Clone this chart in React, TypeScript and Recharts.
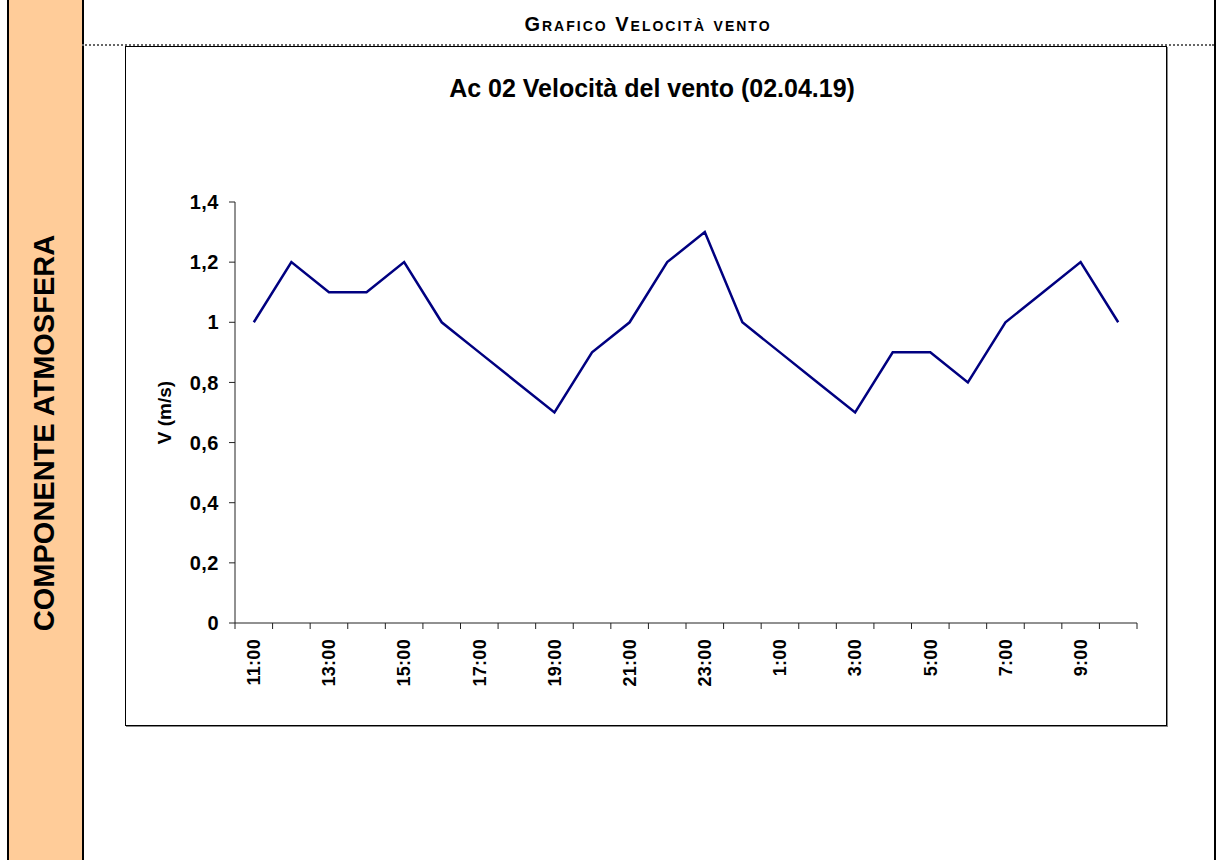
import React from "react";
import { LineChart, Line, XAxis, YAxis } from "recharts";

// hourly readings, 02.04.19 11:00 -> 03.04.19 10:00
const hours = [
  "11:00", "12:00", "13:00", "14:00", "15:00", "16:00", "17:00", "18:00",
  "19:00", "20:00", "21:00", "22:00", "23:00", "0:00", "1:00", "2:00",
  "3:00", "4:00", "5:00", "6:00", "7:00", "8:00", "9:00", "10:00",
];
const windSpeed = [
  1.0, 1.2, 1.1, 1.1, 1.2, 1.0, 0.9, 0.8,
  0.7, 0.9, 1.0, 1.2, 1.3, 1.0, 0.9, 0.8,
  0.7, 0.9, 0.9, 0.8, 1.0, 1.1, 1.2, 1.0,
];
const yTicks = [0, 0.2, 0.4, 0.6, 0.8, 1, 1.2, 1.4];

const chartTitle = "Ac 02 Velocità del vento (02.04.19)";
const sectionTitle = "Grafico Velocità vento";
const sideLabel = "COMPONENTE ATMOSFERA";

const data = hours.map((h, i) => ({ time: h, v: windSpeed[i] }));

const FONT = "Arial, 'Liberation Sans', sans-serif";
const CHART_W = 1040;
const CHART_H = 678;
const MARGIN = { top: 155, right: 29, left: 0, bottom: 0 };
const Y_W = 109;
const PLOT_W = CHART_W - MARGIN.left - MARGIN.right - Y_W;
const BAND = PLOT_W / hours.length;

function HourTick(props: any) {
  const { x, y, payload } = props;
  const idx = payload.index;
  const axisY = y - 9;
  const half = BAND / 2;
  const ty = y + 7;
  return (
    <g>
      <line x1={x - half} x2={x - half} y1={axisY} y2={axisY + 6} stroke="#222" strokeWidth={1} />
      {idx === hours.length - 1 && (
        <line x1={x + half} x2={x + half} y1={axisY} y2={axisY + 6} stroke="#222" strokeWidth={1} />
      )}
      {idx % 2 === 0 && (
        <text
          x={x}
          y={ty}
          transform={`rotate(-90 ${x} ${ty})`}
          textAnchor="end"
          dy="0.35em"
          fontFamily={FONT}
          fontWeight="bold"
          fontSize={18}
          letterSpacing={0.3}
          fill="#000"
        >
          {payload.value}
        </text>
      )}
    </g>
  );
}

export default function App() {
  return (
    <div style={{ position: "absolute", left: 0, top: 0, width: 1222, height: 860, background: "#fff", fontFamily: FONT }}>
      {/* left side column */}
      <div
        style={{
          position: "absolute", left: 7, top: 0, width: 73, height: 860,
          background: "#FFCC99", borderLeft: "2px solid #000", borderRight: "2px solid #000",
        }}
      />
      <div
        style={{
          position: "absolute", left: 44, top: 433, transform: "translate(-50%, -50%) rotate(-90deg)",
          whiteSpace: "nowrap", fontWeight: "bold", fontSize: 29, color: "#000",
        }}
      >
        {sideLabel}
      </div>
      {/* right border */}
      <div style={{ position: "absolute", left: 1214, top: 0, width: 2, height: 860, background: "#000" }} />

      {/* section header */}
      <div
        style={{
          position: "absolute", left: 82, width: 1132, top: 13, textAlign: "center",
          fontWeight: "bold", fontSize: 20, letterSpacing: 2, fontVariant: "small-caps", color: "#000",
        }}
      >
        {sectionTitle}
      </div>
      <div style={{ position: "absolute", left: 82, top: 44, width: 1132, borderTop: "2px dotted #666" }} />

      {/* chart box */}
      <div
        style={{
          position: "absolute", left: 125, top: 46, width: CHART_W, height: CHART_H,
          border: "1px solid #000", boxShadow: "1px 1px 0 #888",
        }}
      >
        <div
          style={{
            position: "absolute", left: 0, right: 0, top: 27, textAlign: "center",
            fontWeight: "bold", fontSize: 25, color: "#000", transform: "translateX(6px)",
          }}
        >
          {chartTitle}
        </div>
        <LineChart width={CHART_W} height={CHART_H} data={data} margin={MARGIN}>
          <XAxis
            dataKey="time"
            interval={0}
            height={CHART_H - MARGIN.top - 421}
            padding={{ left: BAND / 2, right: BAND / 2 }}
            tickLine={false}
            tickSize={6}
            tickMargin={3}
            stroke="#222"
            tick={<HourTick />}
          />
          <YAxis
            width={Y_W}
            domain={[0, 1.4]}
            ticks={yTicks}
            interval={0}
            tickSize={6}
            tickMargin={10}
            stroke="#222"
            tick={{ fill: "#000", fontSize: 20, fontWeight: "bold", fontFamily: FONT, letterSpacing: 0.5 }}
            tickFormatter={(v: number) => String(v).replace(".", ",")}
            label={{
              value: "V (m/s)", angle: -90, position: "center", dx: -16,
              style: { fill: "#000", fontSize: 19, fontWeight: "bold", fontFamily: FONT, textAnchor: "middle" },
            }}
          />
          <Line
            type="linear"
            dataKey="v"
            stroke="#000080"
            strokeWidth={2.5}
            dot={false}
            activeDot={false}
            isAnimationActive={false}
          />
        </LineChart>
      </div>
    </div>
  );
}
